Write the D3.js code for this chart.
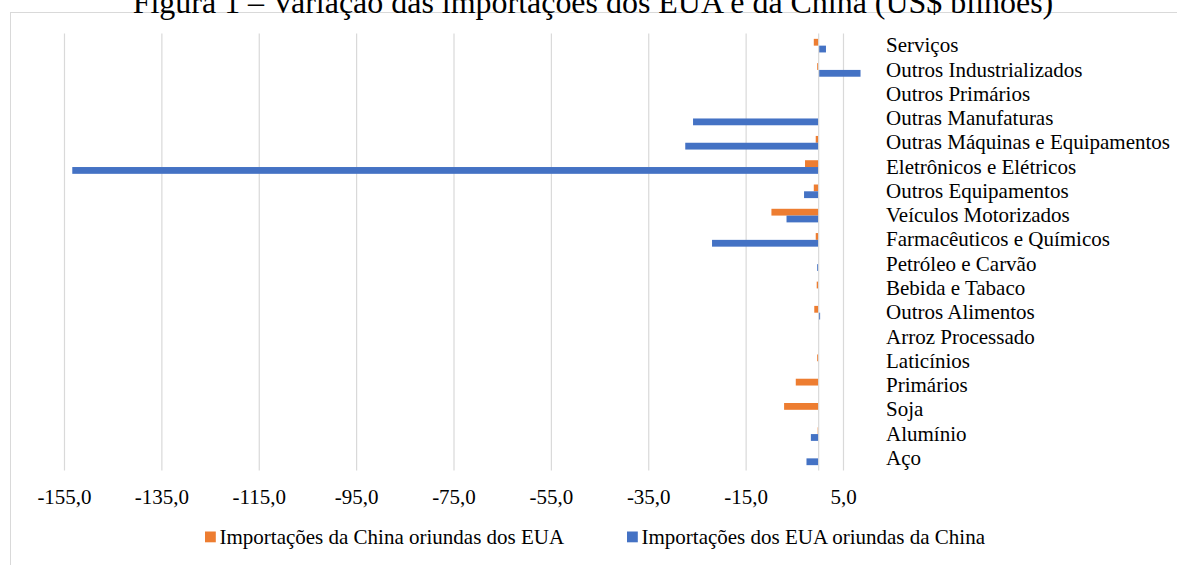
<!DOCTYPE html>
<html>
<head>
<meta charset="utf-8">
<script src="https://cdn.jsdelivr.net/npm/d3@7"></script>
<style>
  html, body { margin: 0; padding: 0; background: #fff; overflow: hidden; }
  svg text { font-family: "Times New Roman", "Liberation Serif", serif; fill: #000; }
</style>
</head>
<body>
<svg id="chart" width="1177" height="565"></svg>
<script>
const title = "Figura 1 – Variação das importações dos EUA e da China (US$ bilhões)";
const categories = [
  "Serviços", "Outros Industrializados", "Outros Primários", "Outras Manufaturas",
  "Outras Máquinas e Equipamentos", "Eletrônicos e Elétricos", "Outros Equipamentos",
  "Veículos Motorizados", "Farmacêuticos e Químicos", "Petróleo e Carvão",
  "Bebida e Tabaco", "Outros Alimentos", "Arroz Processado", "Laticínios",
  "Primários", "Soja", "Alumínio", "Aço"
];
const seriesNames = ["Importações da China oriundas dos EUA", "Importações dos EUA oriundas da China"];
const chinaFromUS = [-1.0, -0.3, 0, 0, -0.6, -2.8, -1.0, -9.7, -0.6, 0, -0.4, -0.9, 0, -0.3, -4.7, -7.1, -0.2, 0];
const usFromChina = [1.5, 8.6, 0, -25.8, -27.4, -153.3, -3.0, -6.6, -21.9, -0.3, 0, 0.3, 0, 0, 0, 0, -1.6, -2.5];
const tickValues = [-155, -135, -115, -95, -75, -55, -35, -15, 5];
const colors = ["#ED7D31", "#4472C4"];

const svg = d3.select("#chart");
const FONT = 21;

// chart border
svg.append("rect").attr("x", 10.5).attr("y", 12.5).attr("width", 1300).attr("height", 700)
  .attr("fill", "none").attr("stroke", "#d9d9d9").attr("stroke-width", 1);

const plot = { left: 64, right: 843, top: 33.5, bottom: 470.5 };
const x = d3.scaleLinear().domain([-155, 5]).range([plot.left, plot.right]);
const y = d3.scaleBand().domain(categories).range([plot.top, plot.bottom]).padding(0);

// gridlines via axis
const grid = svg.append("g").attr("transform", `translate(0,${plot.bottom})`)
  .call(d3.axisBottom(x).tickValues(tickValues).tickSize(-(plot.bottom - plot.top)).tickFormat(""));
grid.select(".domain").remove();
grid.selectAll("line").attr("stroke", "#d9d9d9").attr("stroke-width", 1.2);

// tick labels
const fmt = v => d3.format(".1f")(v).replace("−", "-").replace(".", ",");
const axisLabels = svg.append("g").attr("transform", `translate(0,${plot.bottom})`)
  .call(d3.axisBottom(x).tickValues(tickValues).tickSize(0).tickPadding(0).tickFormat(fmt));
axisLabels.select(".domain").remove();
axisLabels.selectAll("text").attr("font-size", FONT).attr("y", 33.5).attr("dy", 0)
  .style("font-family", '"Times New Roman", "Liberation Serif", serif');

// bars
const barH = 6.8;
const bars = svg.append("g");
[chinaFromUS, usFromChina].forEach((vals, si) => {
  bars.selectAll(null).data(vals.map((v, i) => ({ v, c: categories[i] })).filter(d => d.v !== 0))
    .enter().append("rect")
    .attr("x", d => x(Math.min(0, d.v)))
    .attr("width", d => Math.abs(x(d.v) - x(0)))
    .attr("y", d => y(d.c) + y.bandwidth() / 2 - barH + si * barH)
    .attr("height", barH)
    .attr("fill", colors[si]);
});

// zero axis line
svg.append("line").attr("x1", x(0)).attr("x2", x(0)).attr("y1", plot.top).attr("y2", plot.bottom)
  .attr("stroke", "#d9d9d9").attr("stroke-width", 1.2);

// category labels (high position)
svg.append("g").selectAll("text").data(categories).enter().append("text")
  .attr("x", 886).attr("y", d => y(d) + y.bandwidth() / 2 + 6.6)
  .attr("font-size", FONT).text(d => d);

// legend
const legendX = [205, 627];
const lg = svg.append("g");
seriesNames.forEach((name, i) => {
  lg.append("rect").attr("x", legendX[i]).attr("y", 531.5).attr("width", 10.8).attr("height", 10.8).attr("fill", colors[i]);
  lg.append("text").attr("x", legendX[i] + 14.5).attr("y", 543.5).attr("font-size", FONT).text(name);
});

// title (top cut off)
const t = svg.append("text").attr("x", 593).attr("y", 13).attr("text-anchor", "middle")
  .attr("font-size", 26).text(title);
const len = t.node().getComputedTextLength();
t.attr("font-size", 26 * 921 / len);
</script>
</body>
</html>
